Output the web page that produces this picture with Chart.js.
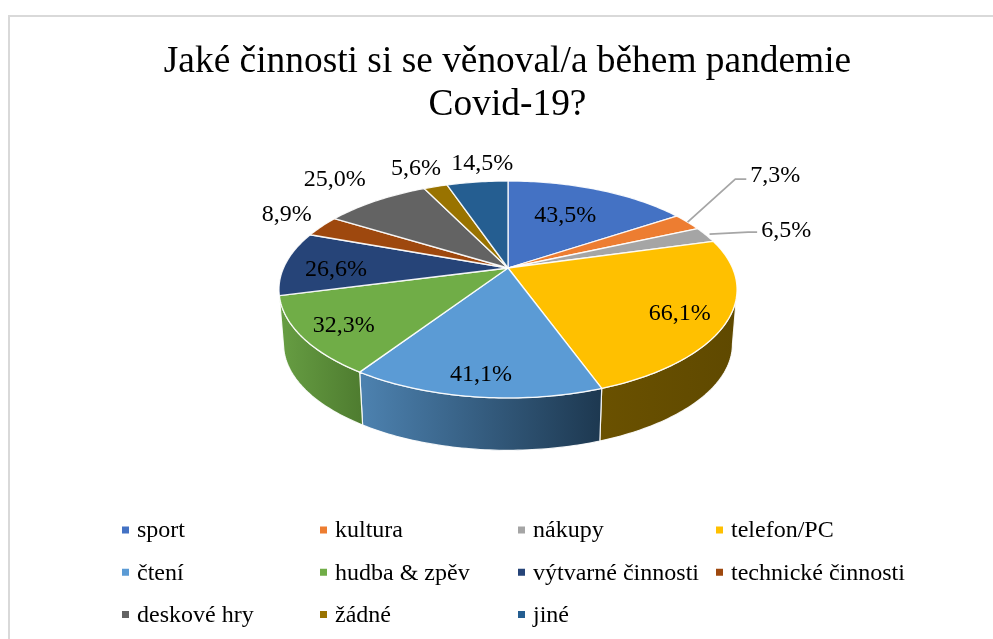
<!DOCTYPE html>
<html lang="cs">
<head>
<meta charset="utf-8">
<style>html,body{margin:0;padding:0;background:#fff}canvas{display:block}</style>
<script src="https://cdn.jsdelivr.net/npm/chart.js@4/dist/chart.umd.min.js"></script>
</head>
<body>
<canvas id="c" width="993" height="639"></canvas>
<script>
const titleLines = ['Jaké činnosti si se věnoval/a během pandemie', 'Covid-19?'];
const categories = ['sport','kultura','nákupy','telefon/PC','čtení','hudba & zpěv','výtvarné činnosti','technické činnosti','deskové hry','žádné','jiné'];
const values = [43.5,7.3,6.5,66.1,41.1,32.3,26.6,8.9,25.0,5.6,14.5];

/* styling and layout, separate from the data */
const colors = ['#4472C4','#ED7D31','#A5A5A5','#FFC000','#5B9BD5','#70AD47','#264478','#9E480E','#636363','#997300','#255E91'];
const wallStops = {3:['#6a5100','#5f4900'],4:['#4d82b0','#1d3850'],5:['#679e43','#4f7d30']};
const noWall = [6];
const labelRadial = [.643,1.817,1.397,.807,.845,.82,.766,1.25,1.40,1.305,1.283];
const labelNudgeDeg = [-2,-8.3,3.1,1.7,0,-.7,-2.5,2.6,.6,-.4,3];
const leaderFor = {1:{rim:1.0,elbow:11,dy:5},2:{rim:1.02,elbow:9,dy:3}};
const P = {cx:508, cy:268, A:104.2, B:224.5, k:.198, depth:55, bottomScale:.98};

function project(theta, r, lower){
  const u=r*Math.sin(theta), v=r*Math.cos(theta), w=1+P.k*v;
  const s=lower?P.bottomScale:1;
  return {x:P.cx+s*P.B*u/w, y:P.cy+(lower?P.depth:0)-s*P.A*v/w};
}
const pct = v => v.toFixed(1).replace('.',',')+'%';

const pie3d = {
  id:'pie3d',
  beforeDraw(chart){
    const c=chart.ctx;
    c.save();c.strokeStyle='#d9d9d9';c.lineWidth=2;
    c.beginPath();c.moveTo(9,639);c.lineTo(9,16);c.lineTo(993,16);c.stroke();c.restore();
  },
  beforeDatasetDraw(){return false;},
  afterDatasetsDraw(chart){
    const c=chart.ctx, arcs=chart.getDatasetMeta(0).data;
    const range=a=>{const s=a.startAngle+Math.PI/2,e=a.endAngle+Math.PI/2;return [s,e,Math.max(2,Math.ceil((e-s)/(Math.PI/180)))];};
    /* the wall is only visible between the two silhouette tangent angles */
    const tanRight=Math.acos(-P.k), tanLeft=2*Math.PI-tanRight;
    c.save();
    arcs.forEach((a,i)=>{
      if(noWall.includes(i)) return;
      const [s0,e0]=range(a);
      const s=Math.max(s0,tanRight), e=Math.min(e0,tanLeft);
      if(s>=e) return;
      const n=Math.max(2,Math.ceil((e-s)/(Math.PI/180)));
      c.beginPath();
      for(let j=0;j<=n;j++){const p=project(s+(e-s)*j/n,1,false); j?c.lineTo(p.x,p.y):c.moveTo(p.x,p.y);}
      for(let j=n;j>=0;j--){const p=project(s+(e-s)*j/n,1,true); c.lineTo(p.x,p.y);}
      c.closePath();
      const st=wallStops[i];
      if(st){
        const p0=project(s,1,false),p1=project(e,1,false);
        const g=c.createLinearGradient(Math.min(p0.x,p1.x),0,Math.max(p0.x,p1.x),0);
        g.addColorStop(0,st[0]);g.addColorStop(1,st[1]);
        c.fillStyle=g;
      } else c.fillStyle=colors[i];
      c.fill();
      c.strokeStyle='rgba(255,255,255,.9)';c.lineWidth=1.2;c.stroke();
    });
    arcs.forEach((a,i)=>{
      const [s,e,n]=range(a);
      c.beginPath();c.moveTo(P.cx,P.cy);
      for(let j=0;j<=n;j++){const p=project(s+(e-s)*j/n,1,false);c.lineTo(p.x,p.y);}
      c.closePath();
      c.fillStyle=colors[i];c.fill();
      c.strokeStyle='rgba(255,255,255,.9)';c.lineWidth=1.3;c.lineJoin='round';c.stroke();
    });
    c.font='24px "Liberation Serif"';c.textAlign='center';c.textBaseline='middle';
    arcs.forEach((a,i)=>{
      const [s,e]=range(a), mid=(s+e)/2;
      const p=project(mid+labelNudgeDeg[i]*Math.PI/180,labelRadial[i],false), txt=pct(values[i]);
      const lf=leaderFor[i];
      if(lf){
        const r=project(mid,lf.rim,false), x1=p.x-c.measureText(txt).width/2-4, y1=p.y+lf.dy;
        c.strokeStyle='#a6a6a6';c.lineWidth=1.8;c.beginPath();
        c.moveTo(r.x,r.y);c.lineTo(x1-lf.elbow,y1);c.lineTo(x1,y1);c.stroke();
      }
      c.fillStyle='#000';c.fillText(txt,p.x,p.y+2);
    });
    /* legend: 4 even columns */
    const left=122, step=198, top=530, rowH=42.25;
    c.font='24px "Liberation Serif"';c.textAlign='left';
    categories.forEach((t,i)=>{
      const col=i%4,row=Math.floor(i/4),x=left+col*step,y=top+row*rowH;
      c.fillStyle=colors[i];c.fillRect(x,y-3.5,7,7);
      c.fillStyle='#000';c.fillText(t,x+15,y+1);
    });
    c.restore();
  }
};

new Chart(document.getElementById('c'),{
  type:'pie',
  data:{labels:categories,datasets:[{data:values,backgroundColor:colors,borderColor:'#fff',borderWidth:1}]},
  plugins:[pie3d],
  options:{
    responsive:false,animation:false,
    layout:{padding:{left:22,top:41}},
    plugins:{
      legend:{display:false},tooltip:{enabled:false},
      title:{display:true,text:titleLines,color:'#000',padding:0,
        font:{family:'"Liberation Serif"',size:37.4,weight:'normal',lineHeight:1.15}}
    }
  }
});
</script>
</body>
</html>
